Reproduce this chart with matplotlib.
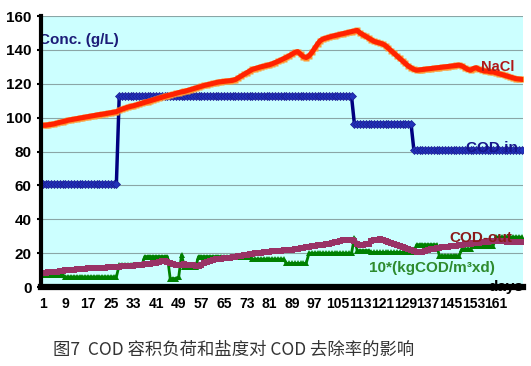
import matplotlib
matplotlib.use('Agg')
import matplotlib.pyplot as plt
import numpy as np

# ── data ──────────────────────────────────────────────────────────────────────
days = list(range(1, 171))

nacl = [
    95.5, 95.5, 95.8, 96.0, 96.3, 96.8, 97.2, 97.6, 98.0, 98.5,
    98.8, 99.1, 99.4, 99.7, 100.0, 100.3, 100.6, 100.9, 101.2, 101.5,
    101.8, 102.0, 102.3, 102.6, 102.9, 103.2, 103.5, 104.3, 105.0, 105.6,
    106.2, 106.6, 107.0, 107.5, 108.0, 108.5, 109.0, 109.5, 110.0, 110.5,
    111.0, 111.5, 112.0, 112.5, 113.0, 113.4, 113.8, 114.3, 114.8, 115.2,
    115.5, 116.0, 116.5, 117.0, 117.5, 118.0, 118.5, 119.0, 119.4, 119.8,
    120.2, 120.6, 121.0, 121.2, 121.4, 121.6, 121.8, 122.0, 122.5, 123.5,
    124.5, 125.5, 126.5, 127.5, 128.5, 129.0, 129.5, 130.0, 130.4, 130.8,
    131.2, 131.8, 132.5, 133.2, 134.0, 134.8, 135.6, 136.5, 137.5, 138.5,
    139.0, 137.5, 136.0, 135.5, 136.5, 138.5, 141.0, 143.5, 145.5, 146.5,
    147.0, 147.5, 148.0, 148.4, 148.8, 149.2, 149.6, 150.0, 150.4, 150.8,
    151.2, 151.5, 150.0, 149.0, 148.0, 147.0, 146.0, 145.0, 144.5, 144.0,
    143.5, 142.5, 141.0, 139.5, 138.0, 136.5, 135.0, 133.5, 132.0, 130.5,
    129.5, 128.5, 128.0, 128.2, 128.4, 128.6, 128.8, 129.0, 129.2, 129.4,
    129.6, 129.8, 130.0, 130.2, 130.4, 130.6, 130.8, 131.0, 130.5, 129.5,
    128.5, 128.0, 129.0, 129.5, 128.5, 128.0, 127.5, 127.5, 127.0, 127.0,
    126.5, 126.0, 125.5, 125.0, 124.5, 124.0, 123.5, 123.0, 122.8, 122.6,
]

cod_in = [61] * 27 + [112.5] * 83 + [96.5] * 21 + [81] * 39

cod_out = [
    8.5, 8.5, 8.6, 8.7, 8.8, 9.0, 9.3, 9.6, 9.8, 10.0,
    10.2, 10.3, 10.4, 10.5, 10.7, 10.8, 11.0, 11.1, 11.2, 11.3,
    11.4, 11.5, 11.5, 11.6, 11.7, 11.9, 12.0, 12.1, 12.2, 12.3,
    12.4, 12.5, 12.6, 12.8, 13.0, 13.2, 13.4, 13.6, 13.8, 14.0,
    14.4, 14.8, 15.2, 15.4, 15.0, 14.4, 13.6, 12.8, 13.0, 13.2,
    13.4, 13.2, 13.0, 12.8, 12.6, 12.6, 13.2, 14.0, 15.0, 15.6,
    16.0, 16.3, 16.6, 16.8, 17.0, 17.2, 17.4, 17.6, 17.8, 18.1,
    18.4, 18.7, 19.0, 19.3, 19.6, 19.8, 20.0, 20.2, 20.4, 20.6,
    20.8, 21.0, 21.2, 21.4, 21.5, 21.6, 21.7, 21.8, 22.0, 22.3,
    22.6, 22.9, 23.2, 23.5, 23.7, 24.0, 24.3, 24.6, 24.9, 25.1,
    25.3, 25.6, 25.9, 26.3, 26.7, 27.1, 27.5, 27.7, 27.8, 27.7,
    27.3, 25.5, 25.0, 25.0, 25.3, 25.5, 27.0, 27.5, 28.0, 28.2,
    28.0, 27.3, 26.6, 26.0, 25.4, 24.8, 24.2, 23.6, 23.0, 22.4,
    21.9, 21.4, 20.9, 20.5, 20.8, 21.3, 21.8, 22.2, 22.6, 23.0,
    23.3, 23.5, 23.7, 23.9, 24.1, 24.3, 24.5, 24.8, 25.0, 25.2,
    25.4, 25.6, 25.8, 26.0, 26.2, 26.4, 26.6, 26.8, 27.0, 27.2,
    27.2, 27.1, 27.0, 26.9, 26.8, 26.7, 26.6, 26.5, 26.4, 26.3,
]

# 10 * volumetric loading (kgCOD/m3·d)
load10 = ([7] * 8 + [6] * 19 + [13] * 9 + [18] * 9 + [5] * 3 + [6, 19]
          + [12] * 5 + [18] * 19 + [16.5] * 12 + [14] * 8 + [20] * 16
          + [29] + [21.5] * 5 + [20.5] * 16 + [25] * 8 + [18.5] * 8
          + [22.5] * 4 + [24.5] * 8 + [29.5] * 10)

xticks = list(range(1, 162, 8))
yticks = list(range(0, 161, 20))

# ── figure ────────────────────────────────────────────────────────────────────
fig = plt.figure(figsize=(5.31, 3.66), dpi=100)
fig.patch.set_facecolor('white')
ax = fig.add_axes([0.0778, 0.2158, 0.907, 0.7404])
ax.set_facecolor('#ccffff')

ax.plot(days, cod_in, color='#000080', lw=2.5, marker='D', ms=4.5,
        mfc='#2233bb', mec='#1a1a90', mew=0.5, zorder=3)
ax.plot(days, load10, color='#008000', lw=2, marker='^', ms=5,
        mfc='#008000', mec='#008000', mew=0, zorder=3)
ax.plot(days, cod_out, color='#993366', lw=3.5, marker='s', ms=4,
        mfc='#993366', mec='#993366', mew=0, zorder=3)
ax.plot(days, nacl, color='#ff9933', lw=0, marker='s', ms=5,
        mec='none', zorder=3)
ax.plot(days, nacl, color='#ff2200', lw=3.6, zorder=3)

ax.set_xlim(0.5, 170.5)
ax.set_ylim(0, 160)
ax.set_xticks(xticks)
ax.set_xticklabels([str(d) for d in xticks], fontsize=10, fontweight='bold',
                   family='Liberation Sans')
ax.set_yticks(yticks)
ax.set_yticklabels([str(v) for v in yticks], fontsize=11, fontweight='bold',
                   family='Liberation Sans')
ax.tick_params(axis='x', length=0, pad=7)
ax.tick_params(axis='y', length=3, width=1.5, pad=4, direction='out')
ax.grid(axis='y', color='#8aa6a6', lw=0.8)
ax.set_axisbelow(True)

for s in ['top', 'right']:
    ax.spines[s].set_visible(False)
ax.spines['left'].set_linewidth(3)
ax.spines['bottom'].set_linewidth(4.5)
ax.spines['left'].set_zorder(5)
ax.spines['bottom'].set_zorder(5)

lab = dict(fontweight='bold', family='Liberation Sans', va='center', zorder=4)
ax.text(-0.005, 0.911, 'Conc. (g/L)', transform=ax.transAxes, ha='left',
        fontsize=11, color='#1c1c78', **lab)
ax.text(161.6, 130, 'NaCl', ha='center', fontsize=10.5, color='#b01818', **lab)
ax.text(159.5, 82, 'COD in', ha='center', fontsize=11, color='#16168c', **lab)
ax.text(155.8, 28.7, 'COD-out', ha='center', fontsize=11, color='#8b1a1a', **lab)
ax.text(138.3, 11, '10*(kgCOD/m³xd)', ha='center', fontsize=11,
        color='#2e8b2e', **lab)
ax.text(164.5, 0.3, 'days', ha='center', fontsize=11, color='black',
        fontweight='bold', family='Liberation Sans', va='center', zorder=4.5,
        clip_on=False)

fig.text(0.0998, 0.0437, '图7  COD 容积负荷和盐度对 COD 去除率的影响',
         fontsize=12.5, color='#333333', va='center', ha='left',
         family=['Noto Sans CJK SC', 'DejaVu Sans'])

plt.savefig('out.png', dpi=100, facecolor='white')
plt.close()
